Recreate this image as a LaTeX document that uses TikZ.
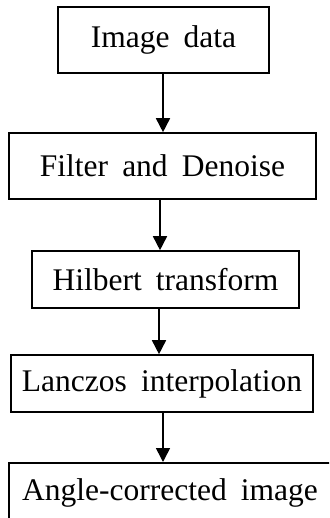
\documentclass[tikz,border=0pt]{standalone}
\usepackage{fontspec}
\setmainfont{Liberation Serif}
\usetikzlibrary{arrows.meta}
\newcommand\myboxfont{\fontsize{31.5bp}{36bp}\selectfont\spaceskip=0.45em plus 0.1em\relax}
\begin{document}
\begin{tikzpicture}[x=1bp,y=-1bp,
  box/.style={draw=black,line width=1.6bp,rectangle,inner sep=0pt,font=\myboxfont},
  arr/.style={line width=1.6bp,-{Triangle[width=14bp,length=14bp]}}]
\useasboundingbox (0,0) rectangle (329,518);
\clip (0,0) rectangle (329,518);
\node[box,minimum width=211bp,minimum height=66bp] (b1) at (163.5,40) {Image data};
\node[box,minimum width=307bp,minimum height=66bp] (b2) at (162.5,166) {Filter and Denoise};
\node[box,minimum width=267bp,minimum height=57bp] (b3) at (165.5,279.5) {Hilbert transform};
\node[box,minimum width=302bp,minimum height=57bp] (b4) at (162,383.5) {Lanczos interpolation};
\node[box,anchor=north,minimum width=322bp,text height=38bp,text depth=30bp] (b5) at (170,462) {Angle-corrected image};
\draw[arr] (b1.south -| 163,0) -- (b2.north -| 163,0);
\draw[arr] (b2.south -| 160,0) -- (b3.north -| 160,0);
\draw[arr] (b3.south -| 159,0) -- (b4.north -| 159,0);
\draw[arr] (b4.south -| 163,0) -- (b5.north -| 163,0);
\end{tikzpicture}
\end{document}
